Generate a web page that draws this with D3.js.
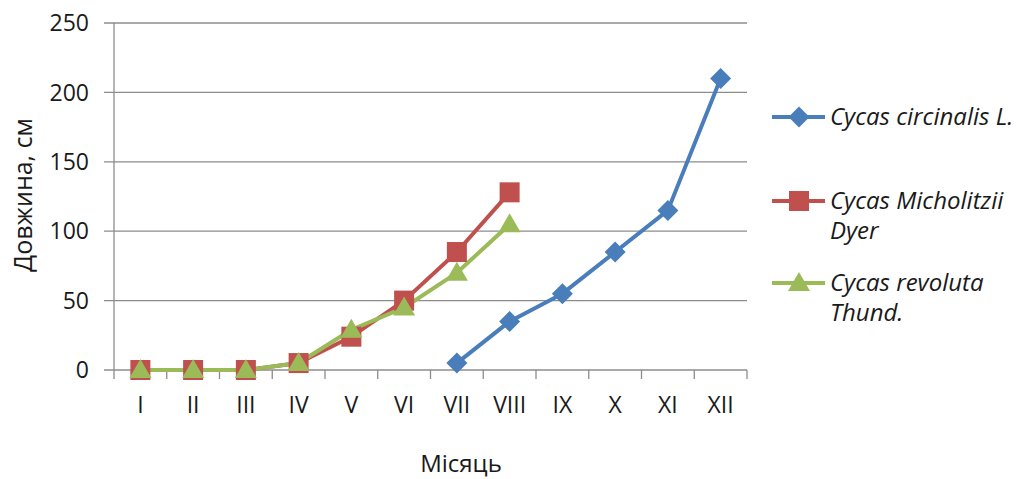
<!DOCTYPE html>
<html><head><meta charset="utf-8">
<script src="https://cdn.jsdelivr.net/npm/d3@7"></script>
<style>body{margin:0;background:#fff}svg{display:block}</style>
</head><body><svg id="c" width="1019" height="479"></svg>
<script>
const months = ["I","II","III","IV","V","VI","VII","VIII","IX","X","XI","XII"];
const yTicks = [0,50,100,150,200,250];
const circinalis = [null,null,null,null,null,null,5,35,55,85,115,210];
const micholitzii = [0,0,0,5,24,50,85,128,null,null,null,null];
const revoluta = [0,0,0,5,29,45,70,105,null,null,null,null];
const seriesNames = [["Cycas circinalis L."],["Cycas Micholitzii","Dyer"],["Cycas revoluta","Thund."]];
const colors = ["#4A7EBB","#C0504D","#9BBB59"];
const markers = ["diamond","square","triangle"];

const svg = d3.select("#c");
const L=114, R=747, T=23, B=370;
const x = d3.scaleBand().domain(months).range([L,R]);
const y = d3.scaleLinear().domain([0,250]).range([B,T]);
const font = "Open Sans, Noto Sans, sans-serif";
const textCol = "#1a1a1a";

// gridlines
svg.append("g").selectAll("line").data(yTicks).join("line")
  .attr("x1",L-10).attr("x2",R).attr("y1",d=>y(d)).attr("y2",d=>y(d))
  .attr("stroke","#8c8c8c").attr("stroke-width",1.3);
// y axis line
svg.append("line").attr("x1",L).attr("x2",L).attr("y1",T).attr("y2",B+9)
  .attr("stroke","#8c8c8c").attr("stroke-width",1.3);
// x ticks
svg.append("g").selectAll("line").data(months.map(m=>x(m)+x.bandwidth())).join("line")
  .attr("x1",d=>d).attr("x2",d=>d).attr("y1",B).attr("y2",B+9)
  .attr("stroke","#8c8c8c").attr("stroke-width",1.3);
// y labels
svg.append("g").selectAll("text").data(yTicks).join("text")
  .attr("x",L-25).attr("y",d=>y(d)).attr("dy","0.36em").attr("text-anchor","end")
  .attr("font-family",font).attr("font-size",23).attr("fill",textCol).text(d=>d);
// x labels
svg.append("g").selectAll("text").data(months).join("text")
  .attr("x",d=>x(d)+x.bandwidth()/2).attr("y",413).attr("text-anchor","middle")
  .attr("font-family",font).attr("font-size",23).attr("fill",textCol).text(d=>d);
// axis titles
svg.append("text").attr("transform","translate(32,195) rotate(-90)").attr("text-anchor","middle")
  .attr("font-family",font).attr("font-size",25).attr("fill",textCol).text("Довжина, см");
svg.append("text").attr("x",461).attr("y",472).attr("text-anchor","middle")
  .attr("font-family",font).attr("font-size",24).attr("fill",textCol).text("Місяць");

function marker(g, type, color, cx, cy){
  if(type==="diamond"){
    g.append("path").attr("d",`M${cx},${cy-10.5}L${cx+10.5},${cy}L${cx},${cy+10.5}L${cx-10.5},${cy}Z`).attr("fill",color);
  } else if(type==="square"){
    g.append("rect").attr("x",cx-10).attr("y",cy-10).attr("width",20).attr("height",20).attr("fill",color);
  } else {
    g.append("path").attr("d",`M${cx},${cy-11}L${cx+11},${cy+8}L${cx-11},${cy+8}Z`).attr("fill",color);
  }
}

const allSeries = [circinalis, micholitzii, revoluta];
const line = d3.line().defined(d=>d.v!==null).x(d=>x(d.m)+x.bandwidth()/2).y(d=>y(d.v));
allSeries.forEach((s,i)=>{
  const data = months.map((m,j)=>({m, v:s[j]}));
  svg.append("path").attr("d",line(data)).attr("fill","none").attr("stroke",colors[i])
    .attr("stroke-width",4).attr("stroke-linejoin","round");
});
allSeries.forEach((s,i)=>{
  const g = svg.append("g");
  months.forEach((m,j)=>{ if(s[j]!==null) marker(g, markers[i], colors[i], x(m)+x.bandwidth()/2, y(s[j])); });
});

// legend
const legY = [117, 201, 283];
seriesNames.forEach((lines,i)=>{
  const g = svg.append("g");
  g.append("line").attr("x1",772).attr("x2",825).attr("y1",legY[i]).attr("y2",legY[i])
    .attr("stroke",colors[i]).attr("stroke-width",4);
  marker(g, markers[i], colors[i], 799, legY[i]);
  lines.forEach((t,k)=>{
    g.append("text").attr("x",830).attr("y",legY[i]+8+k*30)
      .attr("font-family",font).attr("font-size",24).attr("font-style","italic").attr("fill",textCol).text(t);
  });
});
</script></body></html>
